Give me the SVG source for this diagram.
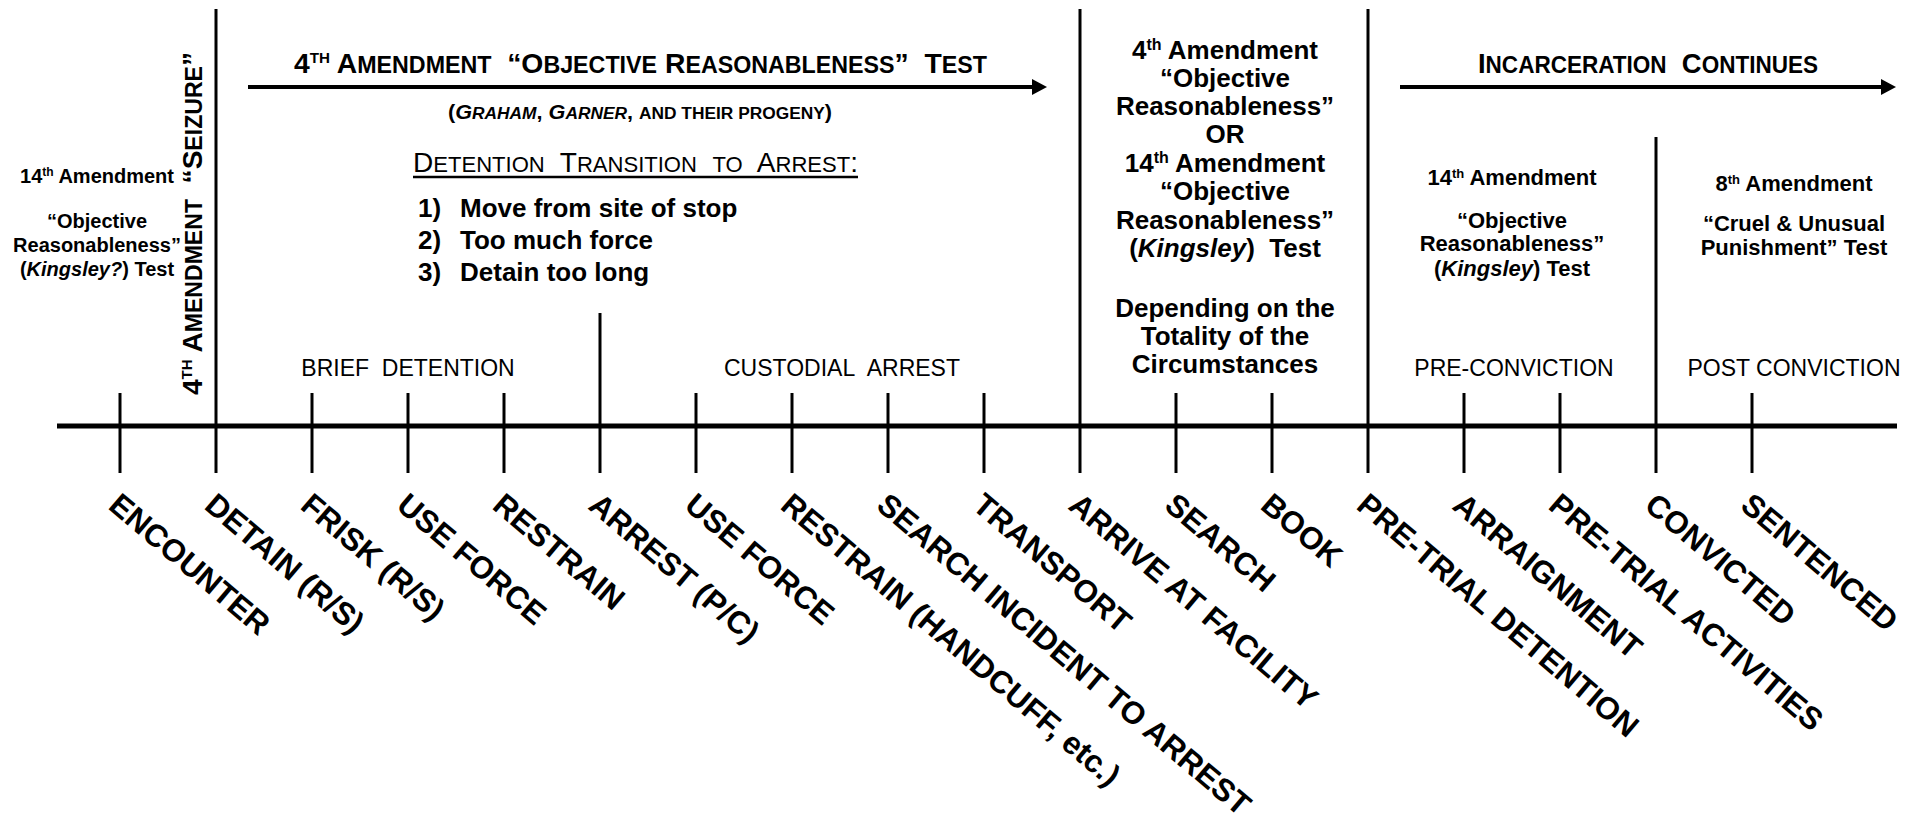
<svg xmlns="http://www.w3.org/2000/svg" width="1919" height="822" viewBox="0 0 1919 822">
<style>
text { font-family: "Liberation Sans", Arial, Helvetica, sans-serif; fill: #000; }
.b { font-weight: bold; }
.sc { font-weight: bold; font-size: 28px; }
.sm { font-size: 23px; }
.sup { font-size: 15px; }
.lbl { font-weight: bold; font-size: 31.4px; }
.phase { font-size: 23px; text-anchor: middle; }
.mid { font-weight: bold; font-size: 26px; text-anchor: middle; }
.side { font-weight: bold; font-size: 20px; text-anchor: middle; }
.rt { font-weight: bold; font-size: 22px; text-anchor: middle; }
.lst { font-weight: bold; font-size: 26px; }
.tick { stroke: #000; stroke-width: 3; fill: none; }
.arrow { stroke: #000; stroke-width: 4; fill: none; marker-end: url(#ah); }
</style>
<defs>
<marker id="ah" markerUnits="userSpaceOnUse" markerWidth="16" markerHeight="16" refX="3" refY="8" orient="auto">
<path d="M0,0 L15,8 L0,16 Z" fill="#000"/>
</marker>
</defs>
<rect width="1919" height="822" fill="#fff"/>

<g id="connectors">
<line x1="57" y1="426" x2="1897" y2="426" stroke="#000" stroke-width="5"/>
<line class="tick" x1="216" y1="9" x2="216" y2="473"/>
<line class="tick" x1="600" y1="313" x2="600" y2="473"/>
<line class="tick" x1="1080" y1="9" x2="1080" y2="473"/>
<line class="tick" x1="1368" y1="9" x2="1368" y2="473"/>
<line class="tick" x1="1656" y1="137" x2="1656" y2="473"/>
<line class="arrow" x1="248" y1="87" x2="1035" y2="87"/>
<line class="arrow" x1="1400" y1="87" x2="1884" y2="87"/>
<line x1="413" y1="177" x2="858" y2="177" stroke="#000" stroke-width="2.5"/>
</g>

<g id="header-4th">
<text x="294" y="73" class="sc" textLength="693" lengthAdjust="spacingAndGlyphs">4<tspan class="sup" dy="-10">TH</tspan><tspan dy="10"> A</tspan><tspan class="sm">MENDMENT</tspan>&#160; “O<tspan class="sm">BJECTIVE</tspan> R<tspan class="sm">EASONABLENESS</tspan>”&#160; T<tspan class="sm">EST</tspan></text>
<text x="448" y="119" font-size="20" font-weight="bold" textLength="384" lengthAdjust="spacingAndGlyphs">(<tspan font-style="italic">G<tspan font-size="16">RAHAM</tspan></tspan>, <tspan font-style="italic">G<tspan font-size="16">ARNER</tspan></tspan>, <tspan font-size="16">AND THEIR PROGENY</tspan>)</text>
</g>

<g id="detention-transition">
<text x="413" y="172" font-size="28" textLength="445" lengthAdjust="spacingAndGlyphs">D<tspan font-size="22">ETENTION</tspan>&#160; T<tspan font-size="22">RANSITION</tspan>&#160; <tspan font-size="22">TO</tspan>&#160; A<tspan font-size="22">RREST</tspan>:</text>
<text class="lst" x="418" y="217">1)</text><text class="lst" x="460" y="217">Move from site of stop</text>
<text class="lst" x="418" y="249">2)</text><text class="lst" x="460" y="249">Too much force</text>
<text class="lst" x="418" y="281">3)</text><text class="lst" x="460" y="281">Detain too long</text>
</g>

<g id="seizure">
<text class="sc" transform="translate(202,395) rotate(-90)" x="0" y="0" textLength="343" lengthAdjust="spacingAndGlyphs">4<tspan class="sup" dy="-10">TH</tspan><tspan dy="10"> A</tspan><tspan class="sm">MENDMENT</tspan>&#160; “S<tspan class="sm">EIZURE</tspan>”</text>
</g>

<g id="pre-seizure">
<text class="side" x="97" y="183">14<tspan font-size="12" dy="-7">th</tspan><tspan dy="7"> Amendment</tspan></text>
<text class="side" x="97" y="228">“Objective</text>
<text class="side" x="97" y="252">Reasonableness”</text>
<text class="side" x="97" y="276">(<tspan font-style="italic">Kingsley?</tspan>) Test</text>
</g>

<g id="facility-standard">
<text class="mid" x="1225" y="59">4<tspan font-size="16" dy="-9">th</tspan><tspan dy="9"> Amendment</tspan></text>
<text class="mid" x="1225" y="87">“Objective</text>
<text class="mid" x="1225" y="115">Reasonableness”</text>
<text class="mid" x="1225" y="143">OR</text>
<text class="mid" x="1225" y="172">14<tspan font-size="16" dy="-9">th</tspan><tspan dy="9"> Amendment</tspan></text>
<text class="mid" x="1225" y="200">“Objective</text>
<text class="mid" x="1225" y="229">Reasonableness”</text>
<text class="mid" x="1225" y="257">(<tspan font-style="italic">Kingsley</tspan>)&#160; Test</text>
<text class="mid" x="1225" y="317">Depending on the</text>
<text class="mid" x="1225" y="345">Totality of the</text>
<text class="mid" x="1225" y="373">Circumstances</text>
</g>

<g id="incarceration">
<text class="sc" x="1478" y="73" textLength="340" lengthAdjust="spacingAndGlyphs">I<tspan class="sm">NCARCERATION</tspan>&#160; C<tspan class="sm">ONTINUES</tspan></text>
</g>

<g id="pre-conviction-standard">
<text class="rt" x="1512" y="185">14<tspan font-size="13" dy="-7">th</tspan><tspan dy="7"> Amendment</tspan></text>
<text class="rt" x="1512" y="228">“Objective</text>
<text class="rt" x="1512" y="251">Reasonableness”</text>
<text class="rt" x="1512" y="276">(<tspan font-style="italic">Kingsley</tspan>) Test</text>
</g>

<g id="post-conviction-standard">
<text class="rt" x="1794" y="191">8<tspan font-size="13" dy="-7">th</tspan><tspan dy="7"> Amendment</tspan></text>
<text class="rt" x="1794" y="231">“Cruel &amp; Unusual</text>
<text class="rt" x="1794" y="255">Punishment” Test</text>
</g>

<g id="phases">
<text class="phase" x="408" y="376">BRIEF&#160; DETENTION</text>
<text class="phase" x="842" y="376">CUSTODIAL&#160; ARREST</text>
<text class="phase" x="1514" y="376">PRE-CONVICTION</text>
<text class="phase" x="1794" y="376">POST CONVICTION</text>
</g>

<g id="events">
<g id="ev-encounter"><line class="tick" x1="120" y1="393" x2="120" y2="473"/><text class="lbl" transform="translate(107,508) rotate(40.3)">ENCOUNTER</text></g>
<g id="ev-detain"><text class="lbl" transform="translate(203,508) rotate(40.3)">DETAIN (R/S)</text></g>
<g id="ev-frisk"><line class="tick" x1="312" y1="393" x2="312" y2="473"/><text class="lbl" transform="translate(299,508) rotate(40.3)">FRISK (R/S)</text></g>
<g id="ev-useforce1"><line class="tick" x1="408" y1="393" x2="408" y2="473"/><text class="lbl" transform="translate(395,508) rotate(40.3)">USE FORCE</text></g>
<g id="ev-restrain1"><line class="tick" x1="504" y1="393" x2="504" y2="473"/><text class="lbl" transform="translate(491,508) rotate(40.3)">RESTRAIN</text></g>
<g id="ev-arrest"><text class="lbl" transform="translate(587,508) rotate(40.3)">ARREST (P/C)</text></g>
<g id="ev-useforce2"><line class="tick" x1="696" y1="393" x2="696" y2="473"/><text class="lbl" transform="translate(683,508) rotate(40.3)">USE FORCE</text></g>
<g id="ev-restrain2"><line class="tick" x1="792" y1="393" x2="792" y2="473"/><text class="lbl" transform="translate(779,508) rotate(40.3)">RESTRAIN (HANDCUFF, etc.)</text></g>
<g id="ev-search-incident"><line class="tick" x1="888" y1="393" x2="888" y2="473"/><text class="lbl" transform="translate(875,508) rotate(40.3)">SEARCH INCIDENT TO ARREST</text></g>
<g id="ev-transport"><line class="tick" x1="984" y1="393" x2="984" y2="473"/><text class="lbl" transform="translate(971,508) rotate(40.3)">TRANSPORT</text></g>
<g id="ev-arrive"><text class="lbl" transform="translate(1067,508) rotate(40.3)">ARRIVE AT FACILITY</text></g>
<g id="ev-search"><line class="tick" x1="1176" y1="393" x2="1176" y2="473"/><text class="lbl" transform="translate(1163,508) rotate(40.3)">SEARCH</text></g>
<g id="ev-book"><line class="tick" x1="1272" y1="393" x2="1272" y2="473"/><text class="lbl" transform="translate(1259,508) rotate(40.3)">BOOK</text></g>
<g id="ev-pretrial-detention"><text class="lbl" transform="translate(1355,508) rotate(40.3)">PRE-TRIAL DETENTION</text></g>
<g id="ev-arraignment"><line class="tick" x1="1464" y1="393" x2="1464" y2="473"/><text class="lbl" transform="translate(1451,508) rotate(40.3)">ARRAIGNMENT</text></g>
<g id="ev-pretrial-activities"><line class="tick" x1="1560" y1="393" x2="1560" y2="473"/><text class="lbl" transform="translate(1547,508) rotate(40.3)">PRE-TRIAL ACTIVITIES</text></g>
<g id="ev-convicted"><text class="lbl" transform="translate(1643,508) rotate(40.3)">CONVICTED</text></g>
<g id="ev-sentenced"><line class="tick" x1="1752" y1="393" x2="1752" y2="473"/><text class="lbl" transform="translate(1739,508) rotate(40.3)">SENTENCED</text></g>
</g>
</svg>
